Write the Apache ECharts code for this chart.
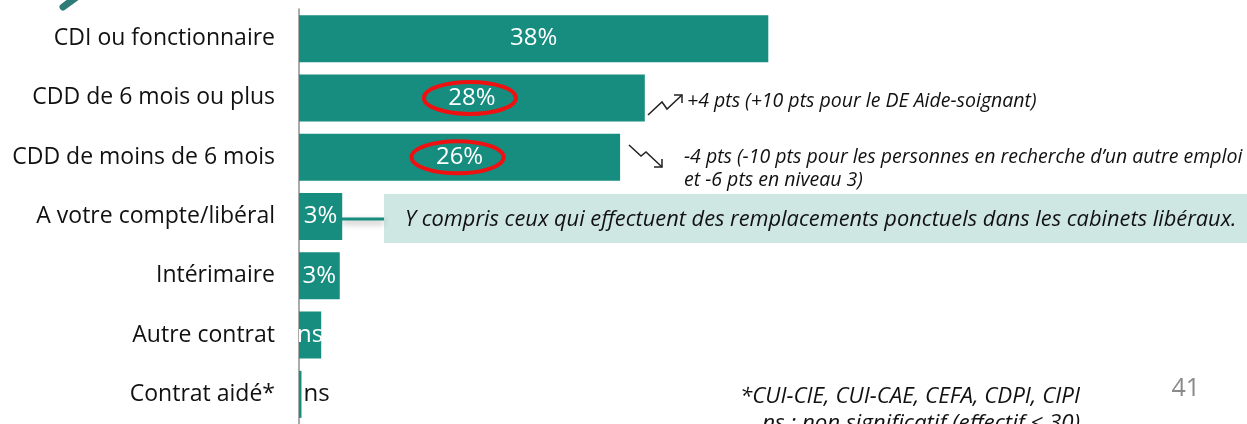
<!DOCTYPE html>
<html>
<head>
<meta charset="utf-8">
<script src="https://cdn.jsdelivr.net/npm/echarts@6/dist/echarts.min.js"></script>
<style>
  html, body { margin: 0; padding: 0; background: #fff; }
  #main { width: 1247px; height: 424px; }
</style>
</head>
<body>
<div id="main"></div>
<script>
var categories = ['CDI ou fonctionnaire', 'CDD de 6 mois ou plus', 'CDD de moins de 6 mois',
  'A votre compte/libéral', 'Intérimaire', 'Autre contrat', 'Contrat aidé*'];
var values = [38, 28, 26, 3.5, 3.3, 1.8, 0.2];
var valueLabels = ['38%', '28%', '26%', '3%', '3%', 'ns', 'ns'];
var circled = [1, 2];

var teal = '#168D7F';
var font = 'Open Sans';

var chart = echarts.init(document.getElementById('main'));

var barData = values.map(function (v, i) {
  var item = { value: v };
  if (i === values.length - 1) {
    item.label = { position: 'right', distance: 2, color: '#111' };
  }
  return item;
});

var option = {
  animation: false,
  grid: { left: 299, top: 9, width: 494, height: 418 },
  xAxis: { type: 'value', min: 0, max: 40, show: false },
  yAxis: {
    type: 'category',
    inverse: true,
    data: categories,
    axisLine: { lineStyle: { color: '#8f8f8f', width: 1.5 } },
    axisTick: { length: 7, lineStyle: { color: '#8f8f8f', width: 1.5 } },
    axisLabel: { color: '#111', fontFamily: font, fontSize: 23, margin: 24, padding: [4, 0, 0, 0] }
  },
  series: [{
    type: 'bar',
    barWidth: 47,
    itemStyle: { color: teal },
    label: {
      show: true,
      position: 'inside',
      color: '#fff',
      fontFamily: font,
      fontSize: 24,
      padding: [4, 0, 0, 0],
      formatter: function (p) { return valueLabels[p.dataIndex]; }
    },
    data: barData
  }]
};
chart.setOption(option);

// annotations
var g = [];
circled.forEach(function (i) {
  var c = chart.convertToPixel({ gridIndex: 0 }, [values[i] / 2, i]);
  g.push({ type: 'ellipse', shape: { cx: c[0] - 2, cy: c[1], rx: 46, ry: 16 },
    style: { fill: 'none', stroke: '#ee1111', lineWidth: 4 }, z: 10 });
});
var italic = { fontFamily: font, fontStyle: 'italic', fill: '#111', fontSize: 19.5 };
g.push(
  { type: 'polyline', shape: { points: [[648, 115], [662, 102], [667, 109], [682, 95]] },
    style: { stroke: '#222', lineWidth: 1.5, fill: 'none' } },
  { type: 'polyline', shape: { points: [[674, 95], [682, 95], [682, 103]] },
    style: { stroke: '#222', lineWidth: 1.5, fill: 'none' } },
  { type: 'polyline', shape: { points: [[629, 145], [641, 156], [646, 152], [662, 167]] },
    style: { stroke: '#222', lineWidth: 1.5, fill: 'none' } },
  { type: 'polyline', shape: { points: [[654, 167], [662, 167], [662, 159]] },
    style: { stroke: '#222', lineWidth: 1.5, fill: 'none' } },
  { type: 'text', x: 687, y: 101, style: Object.assign({ text: '+4 pts (+10 pts pour le DE Aide-soignant)', verticalAlign: 'middle' }, italic) },
  { type: 'text', x: 684, y: 157, style: Object.assign({ text: '-4 pts (-10 pts pour les personnes en recherche d\u2019un autre emploi', verticalAlign: 'middle' }, italic) },
  { type: 'text', x: 684, y: 180, style: Object.assign({ text: 'et -6 pts en niveau 3)', verticalAlign: 'middle' }, italic) },
  { type: 'rect', shape: { x: 384, y: 194, width: 870, height: 49 }, style: { fill: '#CFE7E3' } },
  { type: 'line', shape: { x1: 342, y1: 219, x2: 384, y2: 219 },
    style: { stroke: teal, lineWidth: 3, shadowBlur: 6, shadowOffsetY: 3, shadowColor: 'rgba(0,0,0,0.35)' } },
  { type: 'text', x: 405, y: 220, style: Object.assign({}, italic, { text: 'Y compris ceux qui effectuent des remplacements ponctuels dans les cabinets libéraux.', verticalAlign: 'middle', fontSize: 21.8 }) },
  { type: 'text', x: 1080, y: 397, style: Object.assign({}, italic, { text: '*CUI-CIE, CUI-CAE, CEFA, CDPI, CIPI', align: 'right', verticalAlign: 'middle', fontSize: 22.3 }) },
  { type: 'text', x: 1080, y: 424, style: Object.assign({}, italic, { text: 'ns : non significatif (effectif < 30)', align: 'right', verticalAlign: 'middle', fontSize: 22.3 }) },
  { type: 'text', x: 1200, y: 389, style: { text: '41', fontFamily: font, fontSize: 25, fill: '#8a8a8a', align: 'right', verticalAlign: 'middle' } },
  { type: 'line', shape: { x1: 63, y1: 7, x2: 78, y2: -4 },
    style: { stroke: '#2f7c77', lineWidth: 7, lineCap: 'round' } }
);
chart.setOption({ graphic: g });

window.onresize = chart.resize;
</script>
</body>
</html>
